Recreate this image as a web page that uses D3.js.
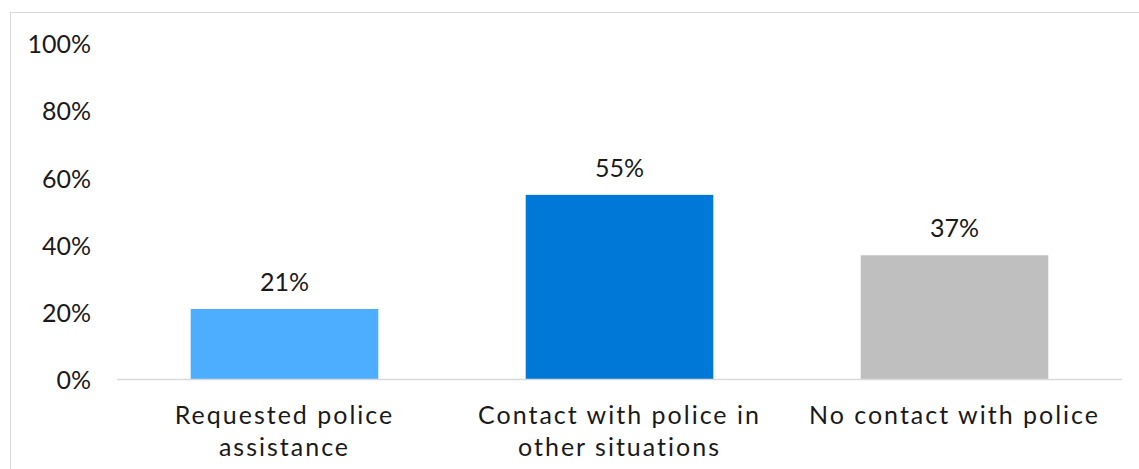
<!DOCTYPE html>
<html>
<head>
<meta charset="utf-8">
<script src="https://cdn.jsdelivr.net/npm/d3@7"></script>
<style>
  html, body { margin: 0; padding: 0; background: #fff; }
  svg { display: block; }
  text { font-family: "Lato", "Noto Sans", sans-serif; fill: #1a1a1a; }
</style>
</head>
<body>
<svg id="chart" width="1139" height="469"></svg>
<script>
// Share of respondents by type of police contact
const categories = [
  ["Requested police", "assistance"],
  ["Contact with police in", "other situations"],
  ["No contact with police"]
];
const values = [21, 55, 37];
const barColors = ["#4daeff", "#0078d7", "#bfbfbf"];
const yTicks = [0, 20, 40, 60, 80, 100];

const svg = d3.select("#chart");
const W = 1139, H = 469;
const fontSize = 25;

// outer chart frame
svg.append("rect")
  .attr("x", 10.5).attr("y", 12.5)
  .attr("width", W + 10).attr("height", H + 10)
  .attr("fill", "none").attr("stroke", "#d9d9d9").attr("stroke-width", 1);

const plot = { left: 117, right: 1122, bottom: 379.5, top: 43.8 };

const x = d3.scaleBand()
  .domain(d3.range(values.length))
  .range([plot.left, plot.right])
  .paddingInner(0.44)
  .paddingOuter(0.22);

const y = d3.scaleLinear().domain([0, 100]).range([plot.bottom, plot.top]);

// y-axis labels (no axis line)
const yAxis = d3.axisLeft(y)
  .tickValues(yTicks)
  .tickFormat(d => d + "%")
  .tickSize(0)
  .tickPadding(0);
const yg = svg.append("g").attr("transform", "translate(91,0)").call(yAxis);
yg.select(".domain").remove();
yg.selectAll("text")
  .attr("font-size", fontSize)
  .attr("font-family", null)
  .attr("fill", null)
  .attr("dy", "0.36em");

// bars
svg.append("g").selectAll("rect")
  .data(values)
  .join("rect")
  .attr("x", (d, i) => x(i))
  .attr("width", x.bandwidth())
  .attr("y", d => y(d))
  .attr("height", d => y(0) - y(d))
  .attr("fill", (d, i) => barColors[i]);

// baseline
svg.append("line")
  .attr("x1", plot.left).attr("x2", plot.right)
  .attr("y1", plot.bottom).attr("y2", plot.bottom)
  .attr("stroke", "#d9d9d9").attr("stroke-width", 1.5);

// value labels
svg.append("g").selectAll("text")
  .data(values)
  .join("text")
  .attr("x", (d, i) => x(i) + x.bandwidth() / 2)
  .attr("y", d => y(d) - 18)
  .attr("text-anchor", "middle")
  .attr("font-size", fontSize)
  .text(d => d + "%");

// category labels
const cg = svg.append("g").selectAll("text")
  .data(categories)
  .join("text")
  .attr("x", (d, i) => x(i) + x.bandwidth() / 2)
  .attr("y", 424)
  .attr("text-anchor", "middle")
  .attr("font-size", fontSize)
  .attr("letter-spacing", 2);
cg.selectAll("tspan")
  .data(d => d)
  .join("tspan")
  .attr("x", function () { return d3.select(this.parentNode).attr("x"); })
  .attr("dy", (d, i) => i === 0 ? 0 : 32)
  .text(d => d);
</script>
</body>
</html>
